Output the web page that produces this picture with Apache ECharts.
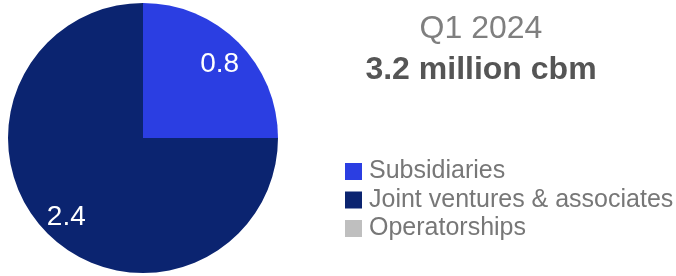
<!DOCTYPE html>
<html>
<head>
<meta charset="utf-8">
<script src="https://cdn.jsdelivr.net/npm/echarts@6/dist/echarts.min.js"></script>
<style>html,body{margin:0;padding:0;background:#fff;}#chart{width:676px;height:276px;}</style>
</head>
<body>
<div id="chart"></div>
<script>
const categories = ['Subsidiaries', 'Joint ventures & associates', 'Operatorships'];
const values = [0.8, 2.4, 0];
const colors = ['#2b3ee2', '#0b2470', '#bfbfbf'];
const periodLabel = 'Q1 2024';
const totalLabel = '3.2 million cbm';

const font = '"Liberation Sans", Arial, sans-serif';
const pieData = categories.map((name, i) => ({ name, value: values[i], itemStyle: { color: colors[i] } }));

const chart = echarts.init(document.getElementById('chart'));
chart.setOption({
  animation: false,
  backgroundColor: '#fff',
  title: {
    text: periodLabel, subtext: totalLabel,
    left: 476, top: 8, textAlign: 'center', itemGap: 9,
    textStyle: { fontFamily: font, fontSize: 32, fontWeight: 'normal', color: '#7f7f7f' },
    subtextStyle: { fontFamily: font, fontSize: 32, fontWeight: 'bold', color: '#555555' }
  },
  legend: {
    orient: 'vertical', left: 340, top: 154,
    itemWidth: 17, itemHeight: 17, itemGap: 3.5, icon: 'rect',
    data: categories,
    textStyle: { fontFamily: font, fontSize: 25, color: '#777777', padding: [0, 0, 0, 2] }
  },
  series: [
    {
      type: 'pie', center: [143, 138], radius: [0, 135], startAngle: 90, clockwise: true,
      silent: true, label: { show: false }, labelLine: { show: false },
      data: pieData
    },
    {
      // transparent ring used only to place labels further out
      type: 'pie', center: [143, 138], radius: [76, 135], startAngle: 90, clockwise: true,
      silent: true, labelLine: { show: false },
      itemStyle: { color: 'rgba(0,0,0,0)' },
      label: {
        show: true, position: 'inside', offset: [0, 3],
        formatter: p => p.value > 0 ? p.value.toFixed(1) : '',
        fontFamily: font, fontSize: 28, color: '#ffffff'
      },
      data: categories.map((name, i) => ({ name, value: values[i] }))
    }
  ]
});
</script>
</body>
</html>
